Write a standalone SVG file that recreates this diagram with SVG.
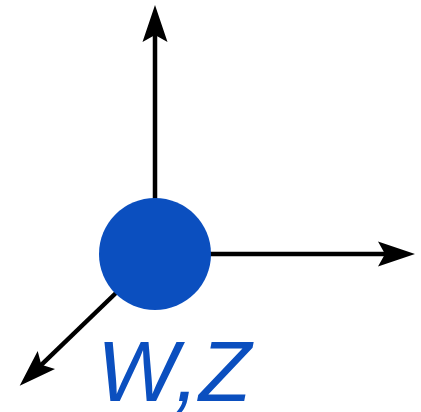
<svg xmlns="http://www.w3.org/2000/svg" width="421" height="412" viewBox="0 0 421 412">
<style>
.axis{stroke:#000;stroke-width:4.5;fill:none;marker-end:url(#head)}
.lbl{font-family:"Liberation Sans",Arial,sans-serif;font-style:italic;font-size:86px;fill:#0b4fbf}
</style>
<defs>
<marker id="head" markerUnits="userSpaceOnUse" orient="auto" refX="-25" refY="0" markerWidth="80" markerHeight="80" overflow="visible">
<path d="M0,0 L-37,-12.5 L-30,0 L-37,12.5 Z" fill="#000"/>
</marker>
</defs>
<g id="connectors">
<line class="axis" x1="155" y1="200" x2="155" y2="30"/>
<line class="axis" x1="209" y1="254" x2="390" y2="254"/>
<line class="axis" x1="118" y1="291" x2="37.7" y2="368.3"/>
</g>
<g id="node">
<circle cx="155" cy="254" r="56" fill="#0b4fbf"/>
<text class="lbl" x="97" y="401">W,Z</text>
</g>
</svg>
